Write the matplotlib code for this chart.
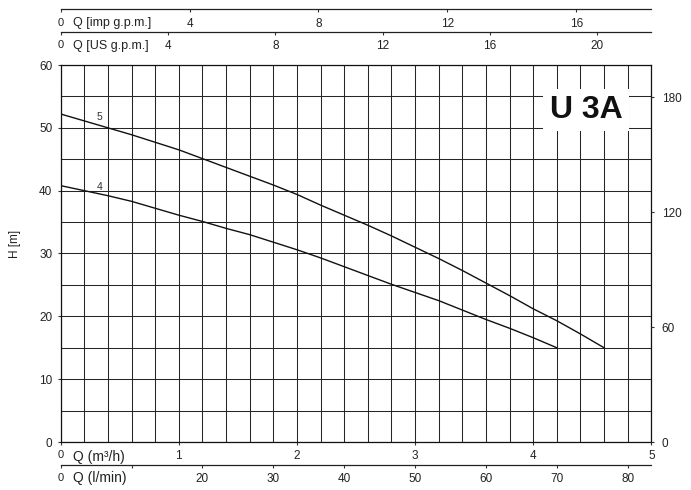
import matplotlib
matplotlib.use('Agg')
import matplotlib.pyplot as plt
import numpy as np

plt.rcParams['font.family'] = ['Liberation Sans', 'DejaVu Sans']

# ---------------- data ----------------
# curve "5" (Q in m3/h, H in m)
q5 = [0.0, 0.2, 0.4, 0.6, 0.8, 1.0, 1.2, 1.4, 1.6, 1.8, 2.0, 2.2, 2.4, 2.6,
      2.8, 3.0, 3.2, 3.4, 3.6, 3.8, 4.0, 4.2, 4.4, 4.6]
h5 = [52.2, 51.1, 50.0, 48.9, 47.7, 46.5, 45.1, 43.7, 42.3, 40.9, 39.4, 37.7,
      36.1, 34.5, 32.8, 31.0, 29.2, 27.3, 25.3, 23.3, 21.2, 19.3, 17.2, 15.0]
# curve "4"
q4 = [0.0, 0.2, 0.4, 0.6, 0.8, 1.0, 1.2, 1.4, 1.6, 1.8, 2.0, 2.2, 2.4, 2.6,
      2.8, 3.0, 3.2, 3.4, 3.6, 3.8, 4.0, 4.2]
h4 = [40.8, 40.0, 39.2, 38.3, 37.2, 36.1, 35.1, 34.0, 33.0, 31.8, 30.6, 29.3,
      27.9, 26.5, 25.1, 23.8, 22.5, 21.0, 19.5, 18.1, 16.6, 15.0]
curve_names = ['5', '4']

h_ticks = [0, 10, 20, 30, 40, 50, 60]
ft_ticks = [0, 60, 120, 180]
m3h_ticks = [0, 1, 2, 3, 4, 5]
m3h_labels = ['0', '1', '2', '3', '4', '5']
lmin_ticks = [0, 10, 20, 30, 40, 50, 60, 70, 80]
lmin_labels = ['0', '', '20', '30', '40', '50', '60', '70', '80']
us_ticks = [0, 4, 8, 12, 16, 20]
us_labels = ['0', '4', '8', '12', '16', '20']
imp_ticks = [0, 4, 8, 12, 16]
imp_labels = ['0', '4', '8', '12', '16']

QMAX = 5.0
HMAX = 60.0
LMIN_PER_M3H = 1000.0 / 60.0
US_PER_M3H = 4.40287
IMP_PER_M3H = 3.66615
FT_PER_M = 3.28084

W, H = 691, 490
def fx(p):
    return p / W
def fy(p):
    return 1 - p / H

X0, X1 = 60.7, 651.3
Y0, Y1 = 442.0, 65.0

fig = plt.figure(figsize=(W / 100, H / 100), dpi=100)
ax = fig.add_axes([fx(X0), fy(Y0), (X1 - X0) / W, (Y0 - Y1) / H])
ax.set_xlim(0, QMAX)
ax.set_ylim(0, HMAX)

# grid
ax.set_xticks(m3h_ticks)
ax.set_xticklabels(m3h_labels)
ax.set_xticks(np.arange(0, QMAX + 0.001, 0.2), minor=True)
ax.set_yticks(h_ticks)
ax.set_yticks(np.arange(0, HMAX + 0.1, 5), minor=True)
ax.grid(which='both', color='#262626', lw=0.75)
ax.set_axisbelow(True)
ax.tick_params(which='minor', length=0)
ax.tick_params(axis='y', which='major', direction='out', length=2.5, width=0.8,
               labelsize=8.5, pad=3.5, color='#333333', labelcolor='#222222')
ax.tick_params(axis='x', which='major', direction='out', length=2, width=0.8,
               labelsize=8.5, pad=3.5, color='#333333', labelcolor='#222222')
for s in ax.spines.values():
    s.set_linewidth(0.9)
    s.set_color('#111111')
ax.get_xticklabels()[0].set_fontsize(8)

# curves
for q, h in [(q5, h5), (q4, h4)]:
    ax.plot(q, h, color='#111111', lw=1.0, zorder=3)
ax.text(0.33, 51.7, curve_names[0], fontsize=7.5, color='#333333',
        ha='center', va='center', zorder=4)
ax.text(0.33, 40.6, curve_names[1], fontsize=7.5, color='#333333',
        ha='center', va='center', zorder=4)

ax.text(4.448, 51.55, 'U 3A', fontsize=23, fontweight='bold', ha='center',
        va='baseline', color='#111111', zorder=5,
        bbox=dict(facecolor='white', edgecolor='none', pad=4.5))

# right axis (feet)
axr = ax.twinx()
axr.set_ylim(0, HMAX * FT_PER_M)
axr.set_yticks(ft_ticks)
axr.tick_params(axis='y', direction='out', length=2.5, width=0.8,
                labelsize=8.5, pad=5, color='#333333', labelcolor='#222222')
for s in axr.spines.values():
    s.set_visible(False)

fig.text(fx(15), fy(244), 'H [m]', rotation=90, fontsize=8.5,
         ha='center', va='center', color='#222222')

# bottom Q label on main axis
fig.text(fx(73), fy(456.5), 'Q (m³/h)', fontsize=10, ha='left', va='center',
         color='#222222')


def aux_axis(ypix, xmax, ticks, labels, qtext, qsize):
    a = fig.add_axes([fx(X0), fy(ypix), (X1 - X0) / W, 1e-5])
    a.patch.set_visible(False)
    a.set_xlim(0, xmax)
    a.set_yticks([])
    for side in ['left', 'right', 'top']:
        a.spines[side].set_visible(False)
    a.spines['bottom'].set_linewidth(0.9)
    a.spines['bottom'].set_color('#222222')
    a.set_xticks(ticks)
    a.set_xticklabels(labels)
    a.tick_params(axis='x', direction='out', length=2.5, width=0.8,
                  labelsize=8.5, pad=3.5, color='#333333', labelcolor='#222222')
    a.get_xticklabels()[0].set_fontsize(8)
    fig.text(fx(73), fy(ypix + 13.5), qtext, fontsize=qsize, ha='left',
             va='center', color='#222222')
    return a

aux_axis(464.5, QMAX * LMIN_PER_M3H, lmin_ticks, lmin_labels, 'Q (l/min)', 10)
aux_axis(9.5, QMAX * IMP_PER_M3H, imp_ticks, imp_labels, 'Q [imp g.p.m.]', 9)
aux_axis(32.0, QMAX * US_PER_M3H, us_ticks, us_labels, 'Q [US g.p.m.]', 9)

fig.savefig('out.png', dpi=100)
